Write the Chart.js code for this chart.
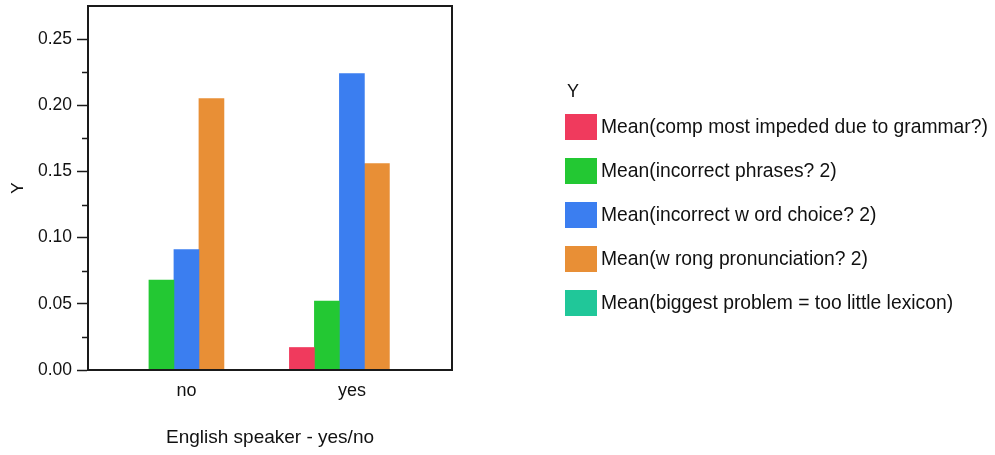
<!DOCTYPE html>
<html>
<head>
<meta charset="utf-8">
<script src="https://cdn.jsdelivr.net/npm/chart.js@4/dist/chart.umd.min.js"></script>
<style>
  html, body { margin: 0; padding: 0; background: #fff; }
  #wrap { position: relative; width: 995px; height: 455px; }
  #legend { position: absolute; left: 565px; top: 80px; font-family: "Liberation Sans", Arial, sans-serif; font-size: 19.3px; color: #111; }
  #legend .title { margin-left: 2px; height: 16px; line-height: 22px; font-size: 18px; }
  #legend .item { display: flex; align-items: center; height: 26px; margin-top: 18px; white-space: nowrap; }
  #legend .box { width: 32px; height: 26px; margin-right: 4px; }
</style>
</head>
<body>
<div id="wrap">
  <canvas id="chart" width="995" height="455"></canvas>
  <div id="legend"></div>
</div>
<script>
var categories = ['no', 'yes'];
var grammar = [0, 0.017];
var phrases = [0.068, 0.052];
var wordChoice = [0.091, 0.224];
var pronunciation = [0.205, 0.156];
var lexicon = [0, 0];
var seriesNames = [
    'Mean(comp most impeded due to grammar?)',
    'Mean(incorrect phrases? 2)',
    'Mean(incorrect w ord choice? 2)',
    'Mean(w rong pronunciation? 2)',
    'Mean(biggest problem = too little lexicon)'
];
var seriesColors = ['#F03A5D', '#23C833', '#3B7EF0', '#E88F36', '#20C799'];
var yTicks = [0, 0.05, 0.10, 0.15, 0.20, 0.25];

var FONT = '"Liberation Sans", Arial, sans-serif';

function toPoints(values) {
    return values.map(function (v, i) { return { x: i, y: v }; });
}

var allSeries = [grammar, phrases, wordChoice, pronunciation, lexicon];
var datasets = allSeries.map(function (vals, i) {
    return {
        label: seriesNames[i],
        data: toPoints(vals),
        backgroundColor: seriesColors[i],
        borderWidth: 0,
        barThickness: 25
    };
});

// frame round the plot and the short minor ticks on the y axis
var framePlugin = {
    id: 'frame',
    afterDraw: function (chart) {
        var ctx = chart.ctx;
        var a = chart.chartArea;
        var y = chart.scales.y;
        ctx.save();
        ctx.strokeStyle = '#1a1a1a';
        ctx.lineWidth = 2;
        ctx.strokeRect(a.left, a.top, a.right - a.left, a.bottom - a.top);
        ctx.lineWidth = 1.5;
        ctx.beginPath();
        for (var i = 0; i < yTicks.length; i++) {
            var py = Math.round(y.getPixelForValue(yTicks[i] + 0.025)) + 0.5;
            if (py <= a.top + 2) continue;
            ctx.moveTo(a.left - 6, py);
            ctx.lineTo(a.left, py);
        }
        ctx.stroke();
        ctx.restore();
    }
};

new Chart('chart', {
    type: 'bar',
    data: { datasets: datasets },
    plugins: [framePlugin],
    options: {
        responsive: false,
        animation: false,
        layout: { padding: { top: 6, right: 543, left: 0, bottom: 0 } },
        plugins: {
            legend: { display: false },
            tooltip: { enabled: false }
        },
        scales: {
            x: {
                type: 'linear',
                offset: false,
                min: -0.595,
                max: 1.605,
                grid: { display: false, drawTicks: false },
                border: { display: false },
                afterFit: function (scale) { scale.height = 85; scale.paddingLeft = 0; scale.paddingRight = 0; },
                afterBuildTicks: function (scale) {
                    scale.ticks = categories.map(function (c, i) { return { value: i }; });
                },
                ticks: {
                    padding: 10,
                    color: '#111',
                    font: { family: FONT, size: 18 },
                    callback: function (v) { return categories[v]; }
                },
                title: {
                    display: true,
                    text: 'English speaker - yes/no',
                    color: '#111',
                    font: { family: FONT, size: 19 },
                    padding: { top: 0, bottom: 6 }
                }
            },
            y: {
                min: 0,
                max: 0.275,
                afterFit: function (scale) { scale.width = 88; scale.paddingTop = 0; scale.paddingBottom = 0; },
                afterBuildTicks: function (scale) {
                    scale.ticks = yTicks.map(function (v) { return { value: v }; });
                },
                grid: { drawOnChartArea: false, drawTicks: true, tickLength: 11, tickWidth: 1.5, tickColor: '#1a1a1a' },
                border: { display: true, color: '#1a1a1a', width: 2 },
                ticks: {
                    padding: 5,
                    color: '#111',
                    font: { family: FONT, size: 17.5 },
                    callback: function (v) { return Number(v).toFixed(2); }
                },
                title: {
                    display: true,
                    text: 'Y',
                    color: '#111',
                    font: { family: FONT, size: 17 },
                    padding: { top: 8, bottom: 0 }
                }
            }
        }
    }
});

// legend on the right
var legend = document.getElementById('legend');
var html = '<div class="title">Y</div>';
seriesNames.forEach(function (name, i) {
    html += '<div class="item"><span class="box" style="background:' + seriesColors[i] + '"></span><span>' + name + '</span></div>';
});
legend.innerHTML = html;
</script>
</body>
</html>
